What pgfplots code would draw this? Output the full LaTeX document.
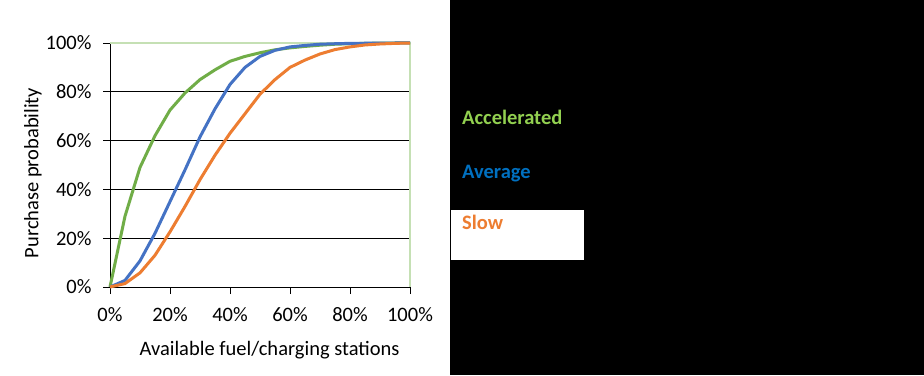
\documentclass[border=0pt]{standalone}
\usepackage{pgfplots}
\pgfplotsset{compat=1.18}
\usepackage{fontspec}
\setmainfont{Carlito}
\definecolor{cgreen}{HTML}{70AD47}
\definecolor{cblue}{HTML}{4472C4}
\definecolor{corange}{HTML}{ED7D31}
\definecolor{lgreen}{HTML}{92D050}
\definecolor{lblue}{HTML}{0070C0}
\definecolor{border}{HTML}{C5E0B4}
\newcommand{\ff}{\fontsize{20.5}{24}\selectfont}
\begin{document}
\begin{tikzpicture}
\useasboundingbox (0pt,0pt) rectangle (924pt,375pt);
\fill[white] (0pt,0pt) rectangle (450pt,375pt);
\fill[black] (450pt,0pt) rectangle (924pt,375pt);
\fill[white] (451pt,115pt) rectangle (584pt,165pt);
\begin{axis}[
  at={(110pt,88pt)}, anchor=south west,
  scale only axis, width=300pt, height=244pt,
  xmin=0, xmax=100, ymin=0, ymax=100,
  axis lines=left, axis line style={-, black, line width=0.8pt},
  xtick={0,20,40,60,80,100}, ytick={0,20,40,60,80,100},
  xticklabels={0\%,20\%,40\%,60\%,80\%,100\%},
  yticklabels={0\%,20\%,40\%,60\%,80\%,100\%},
  tick align=outside, major tick length=7pt,
  tick style={black, line width=0.8pt},
  ymajorgrids, grid style={black, line width=0.8pt},
  tick label style={font=\ff},
  xticklabel style={yshift=-10pt},
  yticklabel style={xshift=-8pt},
  clip=false,
]
\draw[border, line width=1.2pt] (rel axis cs:0,1) -- (rel axis cs:1,1) -- (rel axis cs:1,0);
\addplot[cgreen, line width=3pt] coordinates {
(0,0) (5,29) (10,49) (15,62) (20,72.5) (25,79.5) (30,85) (35,89) (40,92.5) (45,94.5) (50,96) (55,97.2) (60,98) (65,98.6) (70,99.1) (75,99.5) (80,99.7) (85,99.85) (90,99.95) (95,100) (100,100)};
\addplot[cblue, line width=3pt] coordinates {
(0,0) (5,2.7) (10,10.7) (15,22) (20,35) (25,48) (30,61.5) (35,73) (40,83) (45,90) (50,94.5) (55,97) (60,98.4) (65,99) (70,99.5) (75,99.7) (80,99.85) (85,99.9) (90,99.95) (95,100) (100,100)};
\addplot[corange, line width=3pt] coordinates {
(0,0) (5,1.4) (10,5.8) (15,13) (20,22.6) (25,33) (30,44) (35,54) (40,63) (45,71) (50,79) (55,85) (60,90) (65,93) (70,95.5) (75,97.3) (80,98.4) (85,99.2) (90,99.6) (95,99.85) (100,100)};
\end{axis}
\node[rotate=90, font=\ff] at (33pt,202pt) {Purchase probability};
\node[font=\ff] at (269.5pt,25pt) {Available fuel/charging stations};
\node[anchor=base west, inner sep=0pt, font=\ff\bfseries, text=lgreen] at (462pt,250pt) {Accelerated};
\node[anchor=base west, inner sep=0pt, font=\ff\bfseries, text=lblue] at (462pt,196pt) {Average};
\node[anchor=base west, inner sep=0pt, font=\ff\bfseries, text=corange] at (462pt,145pt) {Slow};
\end{tikzpicture}
\end{document}
